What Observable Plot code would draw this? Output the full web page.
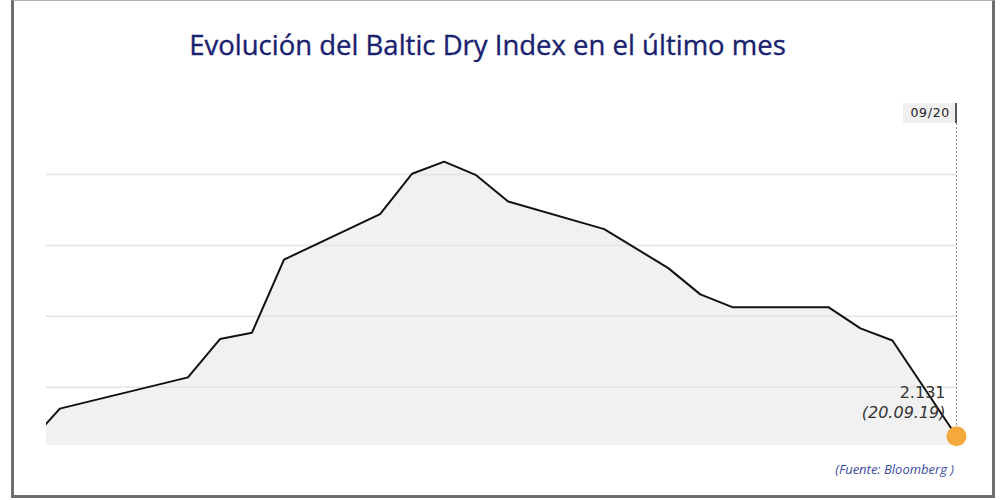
<!DOCTYPE html>
<html>
<head>
<meta charset="utf-8">
<script src="https://cdn.jsdelivr.net/npm/d3@7"></script>
<script src="https://cdn.jsdelivr.net/npm/@observablehq/plot@0.6"></script>
<style>
  html, body { margin: 0; padding: 0; background: #fff; }
  #page { position: relative; width: 1000px; height: 500px; overflow: hidden; font-family: "Open Sans", sans-serif; }
  #frame { position: absolute; left: 11px; top: 0; width: 984px; height: 498px; box-sizing: border-box;
           border-left: 3px solid #6e6e6e; border-right: 3px solid #6e6e6e; border-bottom: 3px solid #6e6e6e; border-top: 1px solid #b0b0b0; }
  #title { position: absolute; top: 28px; left: 0; width: 975px; text-align: center; font-size: 27.5px; line-height: 34px; color: #19226e; -webkit-text-stroke: 0.35px #19226e; }
  #chart { position: absolute; top: 80px; left: 0; }
  #datebox { position: absolute; font-family: "DejaVu Sans", sans-serif; font-size: 12.5px; letter-spacing: 0.7px; color: #222;
             background: #f0f0f0; padding: 2px 5px 3px 7px; line-height: 15px; border-right: 2px solid #555; }
  #caption { position: absolute; top: 460px; right: 46px; font-size: 13px; font-style: italic; color: #3b4aa0; }
</style>
</head>
<body>
<div id="page">
  <div id="frame"></div>
  <div id="title">Evolución del Baltic Dry Index en el último mes</div>
  <div id="chart"></div>
  <div id="datebox"></div>
  <div id="caption">(Fuente: Bloomberg )</div>
</div>
<script>
// Data (Baltic Dry Index, daily closes)
const dates = ["2019-08-22","2019-08-23","2019-08-27","2019-08-28","2019-08-29","2019-08-30",
               "2019-09-02","2019-09-03","2019-09-04","2019-09-05","2019-09-06","2019-09-09",
               "2019-09-11","2019-09-12","2019-09-13","2019-09-16","2019-09-17","2019-09-18","2019-09-20"];
const values = [2120, 2170, 2214, 2268, 2277, 2380,
                2444, 2501, 2518, 2499, 2462, 2423,
                2368, 2331, 2313, 2313, 2283, 2266, 2131];
const gridTicks = [2200, 2300, 2400, 2500];
const xStart = "2019-08-22T14:00:00Z";
const yDomain = [2118, 2600];

const data = dates.map((d, i) => ({date: new Date(d + "T00:00:00Z"), value: values[i]}));
const last = data[data.length - 1];

const esLocale = d3.formatLocale({decimal: ",", thousands: ".", grouping: [3], currency: ["", " €"]});
const fmtNum = esLocale.format(",d");
const fmtShort = d3.utcFormat("%m/%d");
const fmtLong = d3.utcFormat("(%d.%m.%y)");

const chart = Plot.plot({
  width: 1000,
  height: 380,
  marginLeft: 46,
  marginRight: 44,
  marginTop: 23,
  marginBottom: 15,
  style: {fontFamily: "'Open Sans', sans-serif", background: "transparent"},
  x: {type: "utc", domain: [new Date(xStart), last.date], axis: null},
  y: {domain: yDomain, axis: null},
  marks: [
    Plot.areaY(data, {x: "date", y: "value", y1: yDomain[0], fill: "#f1f1f1", clip: true}),
    Plot.gridY(gridTicks, {stroke: "#e3e3e3", strokeOpacity: 1, strokeWidth: 1.5}),
    Plot.lineY(data, {x: "date", y: "value", stroke: "#111", strokeWidth: 2, clip: true}),
    Plot.ruleX([last], {x: "date", y1: yDomain[1], y2: "value", stroke: "#888", strokeDasharray: "2,2", strokeWidth: 1}),
    Plot.dot([last], {x: "date", y: "value", r: 10, fill: "#f4a93a", stroke: "none"}),
    Plot.text([last], {x: "date", y: "value", text: d => fmtNum(d.value), textAnchor: "end", dx: -11, dy: -43, fontSize: 16, fontFamily: "DejaVu Sans", fill: "#333"}),
    Plot.text([last], {x: "date", y: "value", text: d => fmtLong(d.date), textAnchor: "end", dx: -11, dy: -23, fontSize: 16, fontFamily: "DejaVu Sans", fontStyle: "italic", fill: "#333"})
  ]
});
document.getElementById("chart").appendChild(chart);

// Date label box anchored at the last date, top of the plot frame
const xPos = chart.scale("x").apply(last.date);
const box = document.getElementById("datebox");
box.textContent = fmtShort(last.date);
box.style.right = (1000 - xPos - 1) + "px";
box.style.top = (80 + chart.scale("y").apply(yDomain[1])) + "px";
</script>
</body>
</html>
